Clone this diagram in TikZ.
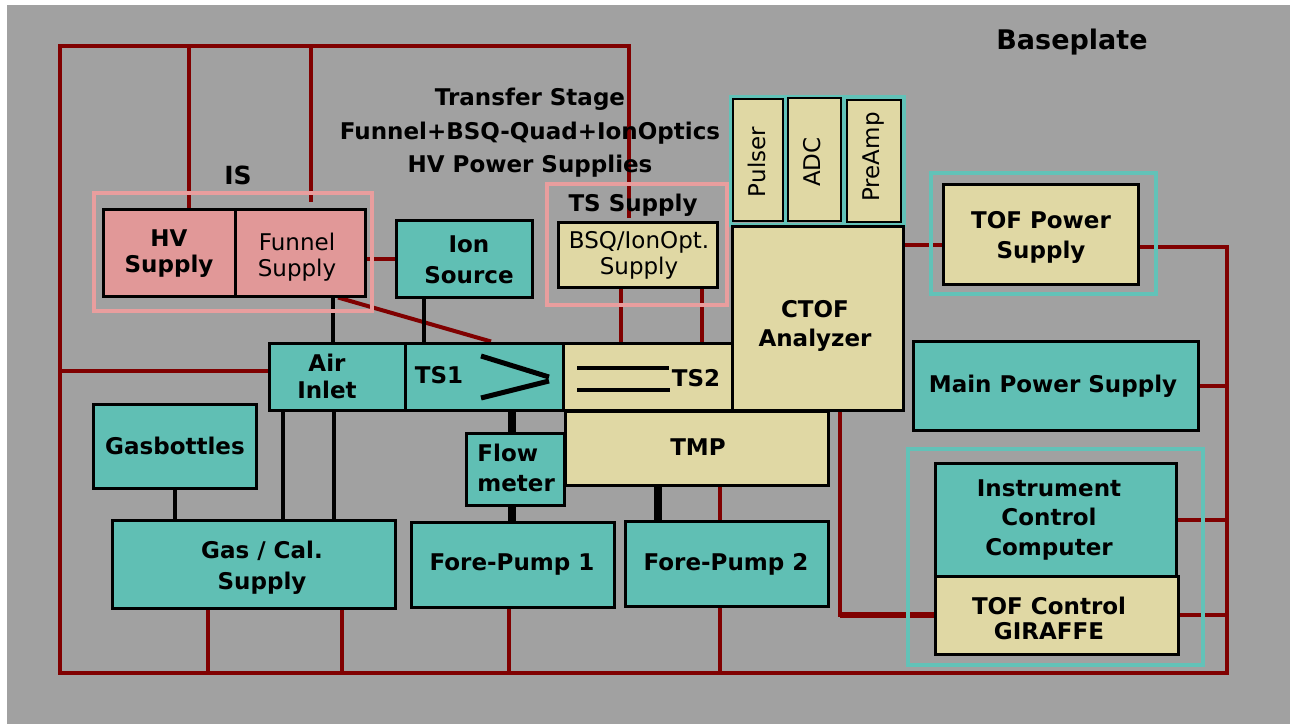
\documentclass[tikz,border=0pt]{standalone}
\usepackage{fontspec}
\setmainfont{DejaVu Sans}
\usepackage{xcolor}
\usetikzlibrary{fit, backgrounds, positioning}
\definecolor{PlateGray}{RGB}{161,161,161}
\definecolor{WireRed}{RGB}{128,0,0}
\definecolor{BoxTeal}{RGB}{96,191,180}
\definecolor{BoxPink}{RGB}{225,152,152}
\definecolor{BoxSand}{RGB}{224,216,164}
\definecolor{FramePink}{RGB}{233,158,158}
\definecolor{FrameTeal}{RGB}{98,194,184}

\begin{document}
\begin{tikzpicture}[x=0.5pt, y=-0.5pt,
  font=\fontsize{11.5}{14.5}\selectfont\bfseries,
  box/.style={draw=black, line width=1.5pt, inner sep=0pt},
  tealbox/.style={box, fill=BoxTeal},
  sandbox/.style={box, fill=BoxSand},
  pinkbox/.style={box, fill=BoxPink},
  pinkframe/.style={draw=FramePink, line width=1.6pt, inner sep=0pt},
  tealframe/.style={draw=FrameTeal, line width=1.6pt, inner sep=0pt},
  wire/.style={WireRed, line width=2pt},
  pipe/.style={black, line width=2pt},
  fatpipe/.style={black, line width=4pt},
  lbl/.style={inner sep=0pt, align=center},
  thinfont/.style={font=\fontsize{11.5}{13}\selectfont}]
  \useasboundingbox (0,0) rectangle (1293,724);

  % baseplate
  \begin{scope}[on background layer]
    \fill[white] (0,0) rectangle (1293,724);
    \fill[PlateGray] (7,5) rectangle (1290,724);
  \end{scope}
  \node[lbl, font=\fontsize{13.5}{16}\selectfont\bfseries] (plate) at (1072,42) {Baseplate};

  % ion source group
  \node[pinkframe, fit={(94,193) (372,311)}] (isframe) {};
  \node[lbl, font=\fontsize{12.5}{15}\selectfont\bfseries] (islbl) at (238,175) {IS};
  \node[pinkbox, fit={(103,209) (235,296)}] (hv) {};
  \node[pinkbox, fit={(235,209) (365,296)}] (funnel) {};
  \node[tealbox, fit={(396,220) (532,297)}] (ion) {};
  \node[lbl, font=\fontsize{11.5}{13}\selectfont\bfseries] (hvtxt) at (169,254) {HV\\Supply};
  \node[lbl, thinfont] (funneltxt) at (297,257) {Funnel\\Supply};
  \node[lbl, font=\fontsize{11.5}{15.5}\selectfont\bfseries] (iontxt) at (469,260) {Ion\\Source};

  % transfer stage supplies
  \node[lbl, font=\fontsize{11.5}{16.75}\selectfont\bfseries] (tshead) at (530,133)
    {Transfer Stage\\Funnel+BSQ-Quad+IonOptics\\HV Power Supplies};
  \node[pinkframe, fit={(547,184) (727,305)}] (tsframe) {};
  \node[lbl] (tslbl) at (633,205.5) {TS Supply};
  \node[sandbox, fit={(558,222) (717,287)}] (bsq) {};
  \node[lbl, thinfont] (bsqtxt) at (639,255.5) {BSQ/IonOpt.\\Supply};

  % electronics on top of the analyzer
  \foreach \name/\xa/\xb in {pulser/731/785, adc/786/843, preamp/844/904}{
    \node[tealframe, fit={(\xa,97) (\xb,225)}] (\name frame) {};
  }
  \node[sandbox, line width=1.2pt, fit={(733,99) (783,221)}] (pulser) {};
  \node[sandbox, line width=1.2pt, fit={(788,98) (841,221)}] (adc) {};
  \node[sandbox, line width=1.2pt, fit={(847,100) (901,222)}] (preamp) {};
  \node[lbl, thinfont, rotate=90] (pulserlbl) at (757,162) {Pulser};
  \node[lbl, thinfont, rotate=90] (adclbl) at (812,162) {ADC};
  \node[lbl, thinfont, rotate=90] (preamplbl) at (873,157) {PreAmp};
  \node[sandbox, fit={(732,226) (903,410)}] (ctof) {};
  \node[lbl] (ctoftxt) at (815,326) {CTOF\\Analyzer};

  % vacuum line
  \node[tealbox, fit={(269,343) (405,410)}] (air) {};
  \node[lbl, font=\fontsize{11.5}{13.5}\selectfont\bfseries] (airtxt) at (327,376.5) {Air\\Inlet};
  \node[tealbox, fit={(405,343) (563,410)}] (ts1) {};
  \node[lbl] (ts1txt) at (439,375) {TS1};
  \node[sandbox, fit={(563,343) (732,410)}] (ts2) {};
  \node[lbl] (ts2txt) at (696,378) {TS2};
  \draw[line width=2.5pt] (481,356) -- (549,377) (481,398) -- (549,381);
  \draw[line width=2pt] (577,368) -- (669,368) (577,390) -- (670,390);
  \node[sandbox, fit={(565,411) (828,485)}] (tmp) {};
  \node[lbl] (tmptxt) at (698,447) {TMP};
  \node[tealbox, fit={(466,433) (564,505)}] (flow) {};
  \node[lbl, anchor=west, align=left, font=\fontsize{11.5}{15}\selectfont\bfseries] (flowtxt) at (477,468) {Flow\\meter};
  \node[tealbox, fit={(93,404) (256,488)}] (gb) {};
  \node[lbl] (gbtxt) at (175,446) {Gasbottles};
  \node[tealbox, fit={(112,520) (395,608)}] (gas) {};
  \node[lbl, font=\fontsize{11.5}{15.5}\selectfont\bfseries] (gastxt) at (262,568) {Gas / Cal.\\Supply};
  \node[tealbox, fit={(411,522) (614,607)}] (fp1) {};
  \node[lbl] (fp1txt) at (512,564.5) {Fore-Pump 1};
  \node[tealbox, fit={(625,521) (828,606)}] (fp2) {};
  \node[lbl] (fp2txt) at (726,564) {Fore-Pump 2};

  % power and control
  \node[tealframe, fit={(931,173) (1156,294)}] (tofpsframe) {};
  \node[sandbox, fit={(943,184) (1138,284)}] (tofps) {};
  \node[lbl, font=\fontsize{11.5}{15}\selectfont\bfseries] (tofpstxt) at (1041,237.5) {TOF Power\\Supply};
  \node[tealbox, fit={(913,341) (1198,430)}] (mps) {};
  \node[lbl] (mpstxt) at (1053,386.5) {Main Power Supply};
  \node[tealframe, fit={(908,449) (1203,665)}] (iccframe) {};
  \node[tealbox, fit={(935,463) (1176,576)}] (icc) {};
  \node[lbl, font=\fontsize{11.5}{14.75}\selectfont\bfseries] (icctxt) at (1049,519.5) {Instrument\\Control\\Computer};
  \node[sandbox, fit={(935,576) (1178,654)}] (tofc) {};
  \node[lbl, font=\fontsize{11.5}{12.5}\selectfont\bfseries] (tofctxt) at (1049,618.5) {TOF Control\\GIRAFFE};

  % wiring to the baseplate
  \begin{scope}[on background layer]
    \coordinate (btl) at (60,46);
    \coordinate (btr) at (629,46);
    \coordinate (bbl) at (60,673);
    \coordinate (bbr) at (1227,673);
    \coordinate (brt) at (1227,245);
    \coordinate (tsfeed) at (629,218);
    \draw[wire, line join=miter] (tsfeed) -- (btr) -- (btl) -- (bbl) -- (bbr) -- (brt);
    \draw[wire] (hv.north -| 189,0) -- (btl -| 189,0);
    \draw[wire, line width=1.7pt] ([yshift=3pt]funnel.north -| 311,0) -- (btl -| 311,0);
    \draw[wire] ([yshift=3pt]air.west) -- ([yshift=3pt]air.west -| btl);
    \draw[wire] (ion.west) -- (ion.west -| funnel.east);
    \draw[wire] ([xshift=19pt]funnel.south) -- ([xshift=3.5pt]ts1.north);
    \foreach \x in {621,702}
      \draw[wire] (bsq.south -| \x,0) -- (ts2.north -| \x,0);
    \draw[wire] ([yshift=-5.5pt]tofps.west) -- ([yshift=-5.5pt]tofps.west -| ctof.east);
    \draw[wire] ([yshift=-6.5pt]tofps.east) -- ([yshift=-6.5pt]tofps.east -| brt);
    \foreach \n in {mps, icc, tofc}
      \draw[wire] (\n.east) -- (\n.east -| brt);
    \draw[wire] (ctof.south -| 840,0) |- (tofc.west);
    \draw[wire, line width=3pt] (tofc.west) -- (tofc.west -| 840,0);
    \foreach \x in {208,342}
      \draw[wire, line width=1.7pt] (gas.south -| \x,0) -- (bbl -| \x,0);
    \draw[wire, line width=1.7pt] (fp1.south -| 509,0) -- (bbl -| 509,0);
    \draw[wire, line width=1.7pt] (fp2.south -| 720,0) -- (bbl -| 720,0);
    \draw[wire, line width=1.7pt] (tmp.south -| 720,0) -- (fp2.north -| 720,0);

    % gas and vacuum pipes
    \draw[pipe] (air.north -| 333,0) -- (funnel.south -| 333,0);
    \draw[pipe] (ts1.north -| 424,0) -- (ion.south -| 424,0);
    \foreach \x in {283,334}
      \draw[pipe] (air.south -| \x,0) -- (gas.north -| \x,0);
    \draw[pipe] (gb.south) -- (gb.south |- gas.north);
    \draw[fatpipe] (ts1.south -| 512,0) -- (flow.north -| 512,0);
    \draw[fatpipe] (flow.south -| 512,0) -- (fp1.north -| 512,0);
    \draw[fatpipe] (tmp.south -| 658,0) -- (fp2.north -| 658,0);
  \end{scope}
\end{tikzpicture}
\end{document}
